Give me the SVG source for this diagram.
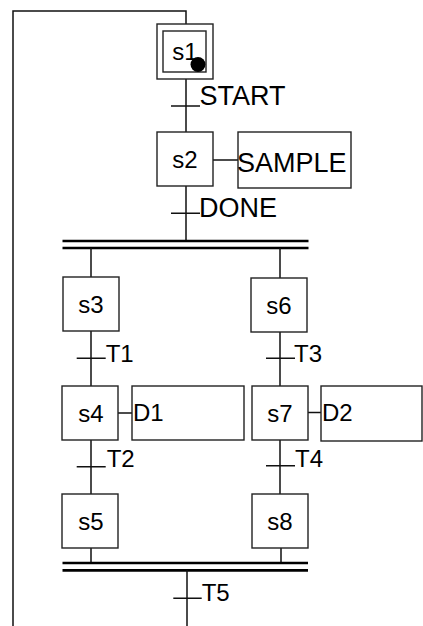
<svg xmlns="http://www.w3.org/2000/svg" width="423" height="626" viewBox="0 0 423 626">
<style>
.box{fill:#fff;stroke:#222;stroke-width:1.4}
.ln{fill:none;stroke:#111;stroke-width:1.5}
.bar{fill:none;stroke:#000;stroke-width:2.7}
.st{font-family:"Liberation Sans",Arial,sans-serif;font-size:24px;fill:#000;text-anchor:middle}
.lb{font-family:"Liberation Sans",Arial,sans-serif;font-size:24px;fill:#000}
.big{font-size:27px}
</style>
<rect width="423" height="626" fill="#fff"/>
<g id="connectors">
<path class="ln" d="M13,626 V11 H186 V24"/>
<path class="ln" d="M186,79 V132 M171,106 H200"/>
<path class="ln" d="M186,186 V241 M171,213.3 H200"/>
<path class="ln" d="M213,160 H238"/>
<path class="bar" d="M62.5,241 H308.5 M62.5,248 H308.5"/>
<path class="ln" d="M91,248 V277 M91,331 V386 M91,440 V494 M91,548 V563"/>
<path class="ln" d="M76.7,358.3 H105.7 M76.7,466.7 H105.7"/>
<path class="ln" d="M118,413 H132"/>
<path class="ln" d="M280,248 V278 M280,332 V386 M280,440 V494 M281,548 V563"/>
<path class="ln" d="M266,358.3 H295 M266,465.7 H295"/>
<path class="ln" d="M308,412.5 H321"/>
<path class="bar" d="M62.5,563 H308 M62.5,570.3 H308"/>
<path class="ln" d="M187,570 V626 M173.3,598.3 H201.7"/>
</g>
<g id="s1">
<rect class="box" x="157" y="24" width="56" height="55"/>
<rect class="box" x="163" y="31" width="43" height="41"/>
<text class="st" x="185" y="60">s1</text>
<circle cx="198" cy="64.5" r="7.5" fill="#000"/>
</g>
<g id="t-start"><text class="lb big" x="199.5" y="105">START</text></g>
<g id="s2">
<rect class="box" x="157" y="132" width="56" height="54"/>
<text class="st" x="185" y="168">s2</text>
</g>
<g id="a-sample">
<rect class="box" x="238" y="132" width="113" height="56"/>
<text class="lb big" x="237" y="172">SAMPLE</text>
</g>
<g id="t-done"><text class="lb big" x="199" y="216.7">DONE</text></g>
<g id="s3">
<rect class="box" x="63" y="277" width="56" height="54"/>
<text class="st" x="91" y="313">s3</text>
</g>
<g id="t1"><text class="lb" x="105.7" y="361.7">T1</text></g>
<g id="s4">
<rect class="box" x="62" y="386" width="56" height="54"/>
<text class="st" x="91" y="422">s4</text>
</g>
<g id="a-d1">
<rect class="box" x="132" y="386" width="112" height="54"/>
<text class="lb" x="133" y="421">D1</text>
</g>
<g id="t2"><text class="lb" x="106.7" y="466.7">T2</text></g>
<g id="s5">
<rect class="box" x="62" y="494" width="56" height="54"/>
<text class="st" x="91" y="530">s5</text>
</g>
<g id="s6">
<rect class="box" x="251" y="278" width="56" height="54"/>
<text class="st" x="279" y="314">s6</text>
</g>
<g id="t3"><text class="lb" x="294" y="361.7">T3</text></g>
<g id="s7">
<rect class="box" x="252" y="386" width="56" height="54"/>
<text class="st" x="280" y="422">s7</text>
</g>
<g id="a-d2">
<rect class="box" x="321" y="386" width="101" height="55"/>
<text class="lb" x="322" y="421">D2</text>
</g>
<g id="t4"><text class="lb" x="295" y="466.7">T4</text></g>
<g id="s8">
<rect class="box" x="252" y="494" width="56" height="54"/>
<text class="st" x="280" y="530">s8</text>
</g>
<g id="t5"><text class="lb" x="201.7" y="600.7">T5</text></g>
</svg>
